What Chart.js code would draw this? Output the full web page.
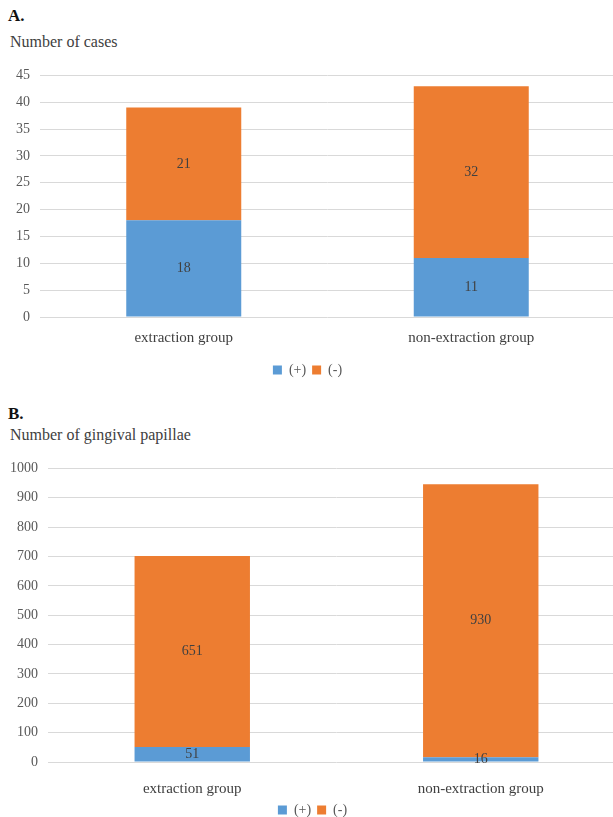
<!DOCTYPE html>
<html>
<head>
<meta charset="utf-8">
<script src="https://cdn.jsdelivr.net/npm/chart.js@4.4.1/dist/chart.umd.min.js"></script>
<style>
  html, body { margin: 0; padding: 0; background: #fff; overflow: hidden; width: 613px; height: 817px; }
  .panel-label { position: absolute; left: 8px; font: bold 17px "Liberation Serif", serif; color: #111; }
  .axis-title { position: absolute; left: 10px; font: 16px "Liberation Serif", serif; color: #404040; }
  .chart-box { position: absolute; left: 0; }
</style>
</head>
<body>
<div class="panel-label" style="top:6px">A.</div>
<div class="axis-title" style="top:33px">Number of cases</div>
<div class="chart-box" style="top:57px;width:615px;height:334px"><canvas id="chartA"></canvas></div>

<div class="panel-label" style="top:404px">B.</div>
<div class="axis-title" style="top:426px">Number of gingival papillae</div>
<div class="chart-box" style="top:450px;width:625px;height:377px"><canvas id="chartB"></canvas></div>

<script>
const groups = ['extraction group', 'non-extraction group'];
const seriesNames = ['(+)', '(-)'];

// panel A - number of cases
const casesPos = [18, 11];
const casesNeg = [21, 32];

// panel B - number of gingival papillae
const papillaePos = [51, 16];
const papillaeNeg = [651, 930];

const blue = '#5B9BD5';
const orange = '#ED7D31';
const serif = '"Liberation Serif", "Times New Roman", serif';

// draw each value in the middle of its segment
const segmentLabels = {
  id: 'segmentLabels',
  afterDatasetsDraw(chart) {
    const ctx = chart.ctx;
    ctx.save();
    ctx.font = '14px ' + serif;
    ctx.fillStyle = '#404040';
    ctx.textAlign = 'center';
    ctx.textBaseline = 'middle';
    chart.data.datasets.forEach((ds, i) => {
      chart.getDatasetMeta(i).data.forEach((bar, j) => {
        const { x, y, base } = bar.getProps(['x', 'y', 'base'], true);
        ctx.fillText(ds.data[j], x, (y + base) / 2);
      });
    });
    ctx.restore();
  }
};

function makeChart(id, pos, neg, o) {
  return new Chart(document.getElementById(id), {
    type: 'bar',
    data: {
      labels: groups,
      datasets: [
        { label: seriesNames[0], data: pos, backgroundColor: blue },
        { label: seriesNames[1], data: neg, backgroundColor: orange }
      ]
    },
    options: {
      responsive: true,
      maintainAspectRatio: false,
      animation: false,
      barPercentage: 0.5,
      categoryPercentage: 0.8,
      layout: { padding: { top: o.topPad, bottom: o.bottomPad, left: 0, right: 0 } },
      plugins: {
        tooltip: { enabled: false },
        legend: {
          position: 'bottom',
          labels: {
            boxWidth: 9, boxHeight: 9, padding: 6,
            color: '#595959',
            font: { family: serif, size: 14 }
          }
        }
      },
      scales: {
        x: {
          stacked: true,
          grid: { display: false },
          border: { display: false },
          ticks: { color: '#404040', padding: o.xPad, font: { family: serif, size: 15 } },
          afterFit(scale) { scale.height = o.xHeight; }
        },
        y: {
          stacked: true,
          min: 0, max: o.yMax,
          grid: { color: '#D9D9D9', drawTicks: false },
          border: { display: false },
          ticks: {
            stepSize: o.yStep, color: '#595959', padding: 10,
            font: { family: serif, size: 14 },
            callback: v => String(v)
          },
          afterFit(scale) { scale.width = o.axisWidth; }
        }
      }
    },
    plugins: [segmentLabels]
  });
}

makeChart('chartA', casesPos, casesNeg,
  { yMax: 45, yStep: 5, axisWidth: 40, topPad: 2, bottomPad: 4, xPad: 4, xHeight: 40 });
makeChart('chartB', papillaePos, papillaeNeg,
  { yMax: 1000, yStep: 100, axisWidth: 48, topPad: 3, bottomPad: 0, xPad: 10, xHeight: 35 });
</script>
</body>
</html>
